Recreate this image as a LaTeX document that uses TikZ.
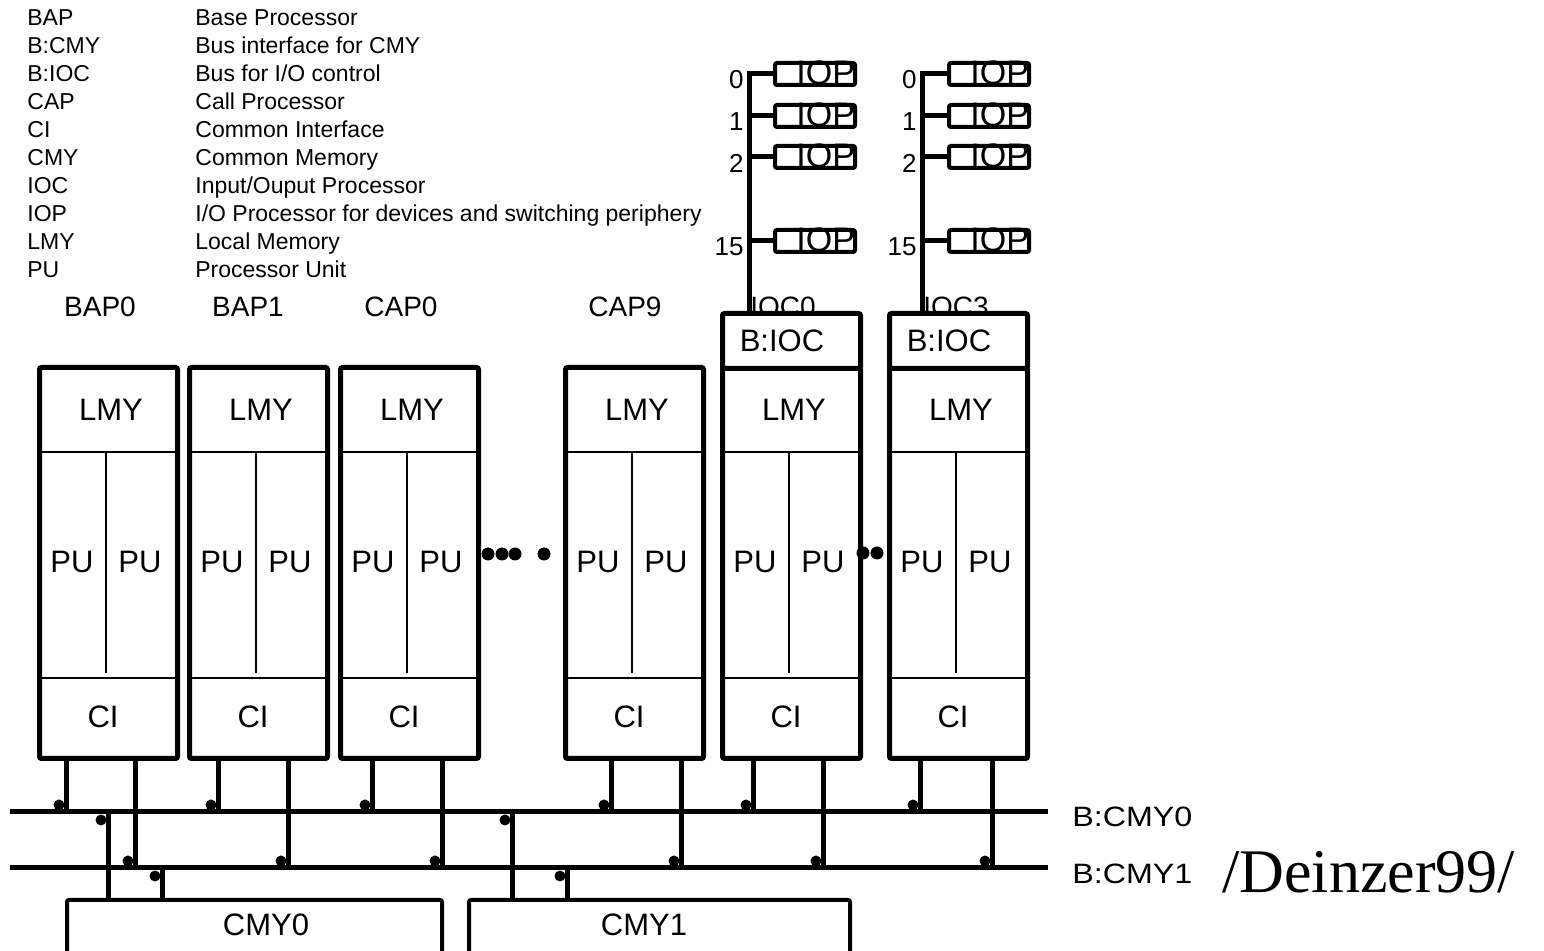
\documentclass[tikz,border=0pt]{standalone}
\usepackage{fontspec}
\setmainfont{Liberation Sans}
\newfontfamily\refserif{Liberation Serif}
\begin{document}
\begin{tikzpicture}[x=0.5pt,y=-0.5pt]
	\tikzset{proc/.style={draw,line width=2.5pt,rounded corners=1pt,anchor=north west,inner sep=0pt,minimum width=69pt,minimum height=195.5pt},
	         bioc/.style={draw,fill=white,line width=2.5pt,rounded corners=1pt,anchor=north west,inner sep=0pt,minimum width=69pt,minimum height=27.5pt},
	         iop/.style={draw,fill=white,line width=2pt,rounded corners=1pt,text width=40pt,align=right,inner sep=0pt,text height=11pt,text depth=0pt,font=\fontsize{17}{17}\selectfont},
	         cmy/.style={draw,line width=2pt,rounded corners=1pt,anchor=north west,inner sep=0pt,minimum height=60pt},
	         wire/.style={line width=2.5pt},
	         sep/.style={line width=0.75pt},
	         jdot/.style={circle,fill=black,inner sep=0pt,minimum size=5.5pt},
	         bdot/.style={circle,fill=black,inner sep=0pt,minimum size=6.5pt},
	         legend/.style={anchor=base west,inner sep=0pt,font=\fontsize{11.5}{12}\selectfont},
	         title/.style={inner sep=0pt,font=\fontsize{14}{15}\selectfont},
	         big/.style={inner sep=0pt,font=\fontsize{15.5}{16}\selectfont},
	         num/.style={anchor=east,inner sep=0pt,font=\fontsize{13}{14}\selectfont},
	         buslab/.style={anchor=west,inner sep=0pt,font=\fontsize{14}{15}\selectfont}}
	\useasboundingbox (0,0) rectangle (1544,951);
	\clip (0,0) rectangle (1544,951);
	% legend
	\foreach \k/\ab/\de in {0/BAP/{Base Processor},1/B:CMY/{Bus interface for CMY},2/B:IOC/{Bus for I/O control},
	                        3/CAP/{Call Processor},4/CI/{Common Interface},5/CMY/{Common Memory},
	                        6/IOC/{Input/Ouput Processor},7/IOP/{I/O Processor for devices and switching periphery},
	                        8/LMY/{Local Memory},9/PU/{Processor Unit}}{
		\node[legend] (ab\k) at (27,26+27.9*\k) {\ab};
		\node[legend] (de\k) at (195,26+27.9*\k) {\de};
	}
	% buses
	\coordinate (busA) at (10,812);
	\coordinate (busAe) at (1048,812);
	\coordinate (busB) at (10,868);
	\coordinate (busBe) at (1048,868);
	\draw[wire] (busA) -- (busAe);
	\draw[wire] (busB) -- (busBe);
	% processors
	\foreach \n/\x/\t/\a/\b/\tx in {bap0/37/BAP0/29/98/63,bap1/187/BAP1/31/101/61,cap0/338/CAP0/34/104/63,
	                                cap9/563/CAP9/48/118/62,ioc0/720/IOC0/33/103/63,ioc3/887/IOC3/33/105/69}{
		\node[title] (\n-t) at (\x+\tx,307) {\t};
		\node[proc] (\n) at (\x,365) {};
		\draw[sep] (\n.north west) ++(0,87) -- ++(138,0);
		\draw[sep] (\n.south west) ++(0,-83) -- ++(138,0);
		\draw[sep] (\n.north west) ++(69,87) -- ++(0,221);
		\node[big] (\n-lmy) at (\x+74,410) {LMY};
		\node[big] (\n-pua) at (\x+35,562) {PU};
		\node[big] (\n-pub) at (\x+103,562) {PU};
		\node[big] (\n-ci) at (\x+66,717) {CI};
		\draw[wire] (\n.south west) ++(\a,0) coordinate (\n-a) -- (\n-a |- busA) coordinate (\n-ja);
		\draw[wire] (\n.south west) ++(\b,0) coordinate (\n-b) -- (\n-b |- busB) coordinate (\n-jb);
		\node[jdot] (\n-da) at ([shift={(-7,-7)}]\n-ja) {};
		\node[jdot] (\n-db) at ([shift={(-7,-7)}]\n-jb) {};
	}
	\node[bioc] (bioc0) at (720,311) {};
	\node[bioc] (bioc3) at (887,311) {};
	\node[big] (bioc0-l) at (782,341) {B:IOC};
	\node[big] (bioc3-l) at (949,341) {B:IOC};
	% I/O processors
	\foreach \c/\px/\ix/\off in {0/815/744/29,3/989/917/35}{
		\foreach \k/\y/\m in {0/74/0,1/116/1,2/157/2,3/241/15}{
			\node[iop] (iop\c\k) at (\px,\y) {IOP};
			\node[num] (num\c\k) at (\ix,\y+6) {\m};
		}
		\draw[wire] (bioc\c.north west) ++(\off,0) coordinate (iocbus\c) |- (iop\c0.west);
		\draw[wire] (iop\c1.west -| iocbus\c) -- (iop\c1.west);
		\draw[wire] (iop\c2.west -| iocbus\c) -- (iop\c2.west);
		\draw[wire] (iop\c3.west -| iocbus\c) -- (iop\c3.west);
	}
	% gaps
	\foreach \px in {488,502,515,544} \node[bdot] (g\px) at (\px,554) {};
	\foreach \px in {863,877} \node[bdot] (g\px) at (\px,553) {};
	% common memories
	\node[cmy,minimum width=187.5pt] (cmy0) at (65,898) {};
	\node[cmy,minimum width=190.5pt] (cmy1) at (467,898) {};
	\node[big] (cmy0-l) at (266,925) {CMY0};
	\node[big] (cmy1-l) at (644,925) {CMY1};
	\draw[wire] (cmy0.north west) ++(43,0) coordinate (cmy0-a) -- (cmy0-a |- busA) coordinate (cmy0-ja);
	\draw[wire] (cmy0.north west) ++(97,0) coordinate (cmy0-b) -- (cmy0-b |- busB) coordinate (cmy0-jb);
	\draw[wire] (cmy1.north west) ++(45,0) coordinate (cmy1-a) -- (cmy1-a |- busA) coordinate (cmy1-ja);
	\draw[wire] (cmy1.north west) ++(100,0) coordinate (cmy1-b) -- (cmy1-b |- busB) coordinate (cmy1-jb);
	\node[jdot] (cmy0-da) at ([shift={(-7,8)}]cmy0-ja) {};
	\node[jdot] (cmy0-db) at ([shift={(-7,8)}]cmy0-jb) {};
	\node[jdot] (cmy1-da) at ([shift={(-7,8)}]cmy1-ja) {};
	\node[jdot] (cmy1-db) at ([shift={(-7,8)}]cmy1-jb) {};
	% bus labels
	\node[buslab] (busA-l) at (1072,817) {\scalebox{1.15}[1]{B:CMY0}};
	\node[buslab] (busB-l) at (1072,874) {\scalebox{1.15}[1]{B:CMY1}};
	\node[anchor=base west,inner sep=0pt,font=\refserif\fontsize{31}{32}\selectfont] (src) at (1222,893) {/Deinzer99/};
\end{tikzpicture}
\end{document}
